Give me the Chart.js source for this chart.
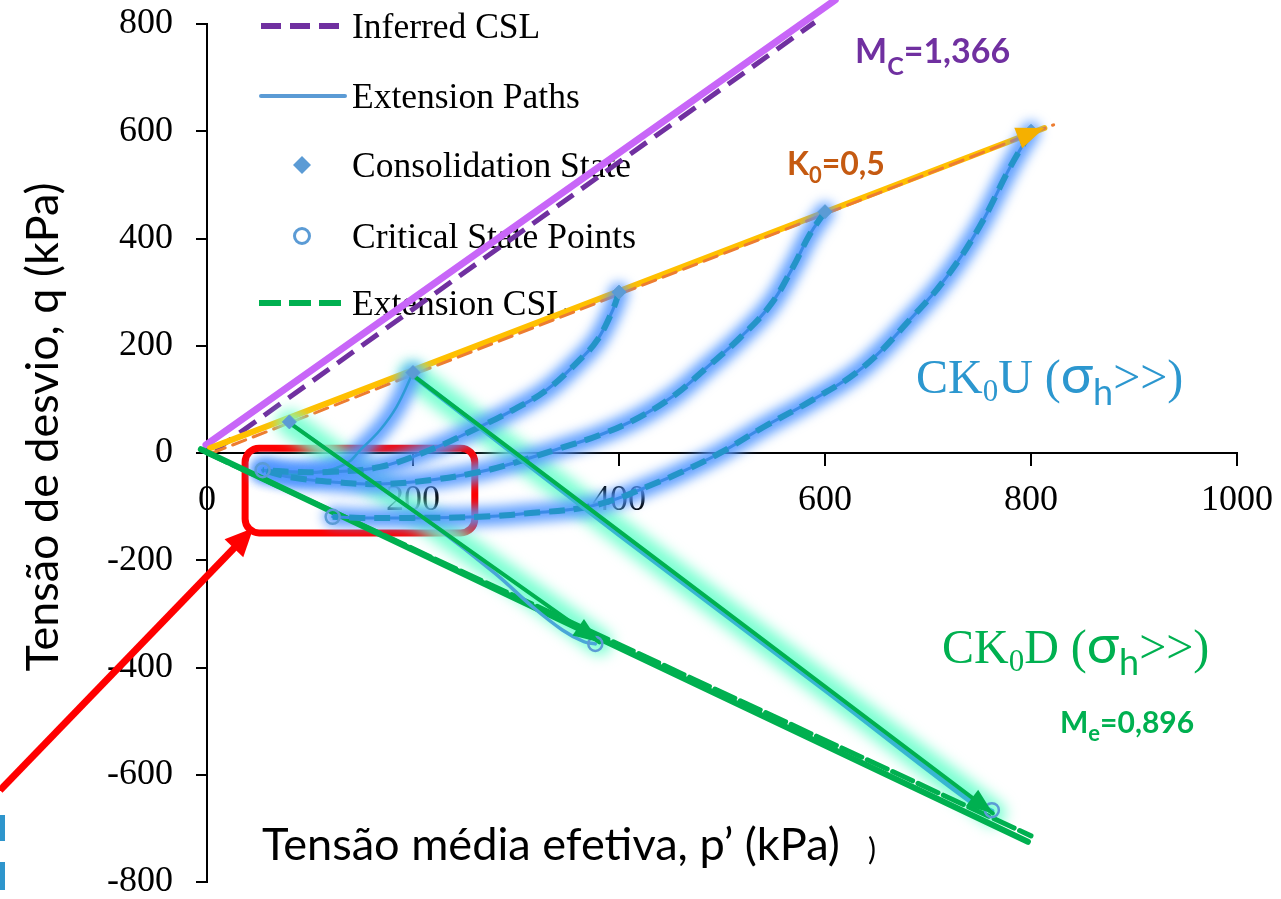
<!DOCTYPE html>
<html>
<head>
<meta charset="utf-8">
<script src="https://cdn.jsdelivr.net/npm/chart.js@4.4.1/dist/chart.umd.min.js"></script>
<style>
  html, body { margin: 0; padding: 0; background: #fff; }
  #wrap { width: 1281px; height: 899px; }
</style>
</head>
<body>
<div id="wrap"><canvas id="chart"></canvas></div>
<script>
// --- axis ---
const xMin = 0, xMax = 1000, xStep = 200;
const yMin = -800, yMax = 800, yStep = 200;

// --- legend ---
const legendLabels = ["Inferred CSL", "Extension Paths", "Consolidation State", "Critical State Points", "Extension CSL"];

// --- compression CSL (Mc = 1,366) ---
const mcP = [-1, 610];
const mcQ = [15, 845];
const mcDashP = [8, 590];
const mcDashQ = [5, 803];

// --- K0 = 0,5 line ---
const k0P = [3, 813];
const k0Q = [9, 606];
const k0DashP = [5, 822];
const k0DashQ = [0, 612];

// --- extension CSL (Me = 0,896) ---
const meP = [-6, 797];
const meQ = [7, -725];
const meDashP = [0, 800];
const meDashQ = [0, -714];

// --- CK0U paths (undrained) ---
const uP1 = [800, 780, 750, 718, 685, 637, 588, 540, 498, 459, 427, 394, 362, 314, 265, 200, 149, 122];
const uQ1 = [600, 534, 422, 328, 254, 160, 99, 48, 0, -37, -63, -88, -103, -112, -119, -121, -121, -119];
const uP2 = [600, 585, 569, 547, 517, 485, 454, 420, 382, 343, 297, 265, 219, 168, 122, 81, 54];
const uQ2 = [450, 407, 347, 276, 214, 159, 108, 67, 34, 9, -19, -35, -50, -58, -54, -45, -32];
const uP3 = [400, 394, 379, 362, 330, 297, 265, 217, 168, 122, 81, 54];
const uQ3 = [300, 267, 211, 174, 118, 80, 49, 6, -26, -35, -35, -32];
const uP4 = [200, 184, 168, 149, 136, 110, 80, 54];
const uQ4 = [150, 86, 43, 6, -19, -35, -40, -32];

// --- CK0D paths (drained) ---
const dP1 = [80, 150, 220, 280, 315, 345, 366, 377];
const dQ1 = [57, -40, -135, -225, -285, -330, -352, -356];
const dP2 = [199, 400, 600, 740, 762];
const dQ2 = [146, -152, -442, -648, -668];
const arrP1 = [80, 381];
const arrQ1 = [56, -353];
const arrP2 = [199, 763];
const arrQ2 = [146, -672];

// --- points ---
const consP = [80, 200, 400, 600, 800];
const consQ = [58, 150, 300, 450, 600];
const critP = [54, 122, 377, 762];
const critQ = [-32, -119, -356, -666];

const pts = (p, q) => p.map((v, i) => ({ x: v, y: q[i] }));

const BLUE = "#5B9BD5";
const GREEN = "#00B050";
const SERIF = "'Liberation Serif', 'Times New Roman', serif";
const SANS = "Lato, 'Open Sans', sans-serif";

function line(p, q, opt) {
  return Object.assign({
    data: pts(p, q),
    showLine: true,
    pointRadius: 0,
    pointHoverRadius: 0,
    fill: false,
    tension: 0,
    borderCapStyle: "round",
    clip: false,
  }, opt);
}

const undrained = [[uP1, uQ1], [uP2, uQ2], [uP3, uQ3], [uP4, uQ4]];
const datasets = [];

// markers (top)
datasets.push({ data: pts(consP, consQ), pointStyle: "rectRot", pointRadius: 7, backgroundColor: BLUE, borderColor: BLUE, showLine: false, order: 0 });
datasets.push({ data: pts(critP, critQ), pointStyle: "circle", pointRadius: 7, backgroundColor: "rgba(0,0,0,0)", borderColor: BLUE, borderWidth: 2.5, showLine: false, order: 0 });

// green arrows
datasets.push(line(arrP1, arrQ1, { borderColor: "#00B050", borderWidth: 4, order: 1, arrow: { color: "#00B050", len: 26, half: 10 } }));
datasets.push(line(arrP2, arrQ2, { borderColor: "#00B050", borderWidth: 4, order: 1, arrow: { color: "#00B050", len: 26, half: 10 } }));

// drained blue paths
datasets.push(line(dP1, dQ1, { borderColor: "#4AA6D8", borderWidth: 3.5, tension: 0.4, order: 2 }));
datasets.push(line(dP2, dQ2, { borderColor: "#38B6D2", borderWidth: 5, tension: 0.3, order: 2 }));

// undrained blue paths: dashed over solid
undrained.forEach(([p, q], i) => {
  if (i < 3) datasets.push(line(p, q, { borderColor: "#2494C8", borderWidth: 6, borderDash: [16, 9], borderCapStyle: "butt", tension: 0.4, order: 3 }));
  datasets.push(line(p, q, { borderColor: i < 3 ? "#3A8BE6" : "#2E9BD6", borderWidth: i < 3 ? 3 : 2.5, tension: 0.4, order: 4 }));
});

// extension CSL
datasets.push(line(meDashP, meDashQ, { borderColor: GREEN, borderWidth: 5, borderDash: [22, 6], order: 5 }));
datasets.push(line(meP, meQ, { borderColor: GREEN, borderWidth: 6, order: 5 }));

// soft glows (blurred wide strokes)
undrained.forEach(([p, q]) => {
  datasets.push(line(p, q, { borderColor: "rgba(80,150,255,0.9)", borderWidth: 19, tension: 0.4, blur: 6, order: 6 }));
});
[[arrP1, arrQ1], [arrP2, arrQ2]].forEach(([p, q]) => {
  datasets.push(line(p, q, { borderColor: "rgba(110,255,205,0.9)", borderWidth: 26, blur: 7, order: 6 }));
});

// K0 line
datasets.push(line(k0DashP, k0DashQ, { borderColor: "#ED7D31", borderWidth: 3, borderDash: [14, 8], order: 7 }));
datasets.push(line(k0P, k0Q, { borderColor: "#FFC000", borderWidth: 6, order: 7, arrow: { color: "#F5B000", len: 28, half: 11 } }));

// compression CSL
datasets.push(line(mcDashP, mcDashQ, { borderColor: "#7030A0", borderWidth: 5, borderDash: [20, 10], borderCapStyle: "butt", order: 8 }));
datasets.push(line(mcP, mcQ, { borderColor: "#C866F8", borderWidth: 7, order: 8 }));

// blur filter per dataset
const glowPlugin = {
  id: "glow",
  beforeDatasetDraw(chart, args) {
    const ds = chart.data.datasets[args.index];
    if (!ds.blur) return;
    chart.ctx.save();
    chart.ctx.filter = "blur(" + ds.blur + "px)";
  },
  afterDatasetDraw(chart, args) {
    if (chart.data.datasets[args.index].blur) chart.ctx.restore();
  },
};

// arrow heads on the last point
const arrowPlugin = {
  id: "arrows",
  afterDatasetsDraw(chart) {
    const ctx = chart.ctx;
    chart.data.datasets.forEach((ds, i) => {
      if (!ds.arrow) return;
      const el = chart.getDatasetMeta(i).data;
      const a = el[el.length - 2], b = el[el.length - 1];
      const ang = Math.atan2(b.y - a.y, b.x - a.x);
      ctx.save();
      ctx.translate(b.x, b.y);
      ctx.rotate(ang);
      ctx.fillStyle = ds.arrow.color;
      ctx.beginPath();
      ctx.moveTo(0, 0);
      ctx.lineTo(-ds.arrow.len, -ds.arrow.half);
      ctx.lineTo(-ds.arrow.len, ds.arrow.half);
      ctx.closePath();
      ctx.fill();
      ctx.restore();
    });
  },
};

function drawRich(ctx, parts, x, y, color) {
  ctx.save();
  ctx.fillStyle = color;
  ctx.textAlign = "left";
  ctx.textBaseline = "alphabetic";
  parts.forEach(([t, font, dy]) => {
    ctx.font = font;
    ctx.fillText(t, x, y + (dy || 0));
    x += ctx.measureText(t).width;
  });
  ctx.restore();
}

function fitSize(ctx, text, font, width) {
  ctx.font = "100px " + font;
  return 100 * width / ctx.measureText(text).width;
}

// legend, red box and arrow under the data
const underlayPlugin = {
  id: "underlay",
  beforeDatasetsDraw(chart) {
    const ctx = chart.ctx;
    const xs = chart.scales.x, ys = chart.scales.y;

    // red box
    const bx0 = xs.getPixelForValue(37), bx1 = xs.getPixelForValue(260);
    const by0 = ys.getPixelForValue(9), by1 = ys.getPixelForValue(-149);
    ctx.save();
    ctx.strokeStyle = "#FF0000";
    ctx.lineWidth = 7;
    ctx.beginPath();
    ctx.roundRect(bx0, by0, bx1 - bx0, by1 - by0, 14);
    ctx.stroke();

    // red arrow
    const ax0 = xs.getPixelForValue(-201), ay0 = ys.getPixelForValue(-629);
    const ax1 = xs.getPixelForValue(45), ay1 = ys.getPixelForValue(-140);
    const ang = Math.atan2(ay1 - ay0, ax1 - ax0);
    ctx.lineWidth = 7;
    ctx.beginPath();
    ctx.moveTo(ax0, ay0);
    ctx.lineTo(ax1 - 20 * Math.cos(ang), ay1 - 20 * Math.sin(ang));
    ctx.stroke();
    ctx.fillStyle = "#FF0000";
    ctx.translate(ax1, ay1);
    ctx.rotate(ang);
    ctx.beginPath();
    ctx.moveTo(0, 0);
    ctx.lineTo(-28, -13);
    ctx.lineTo(-28, 13);
    ctx.closePath();
    ctx.fill();
    ctx.restore();

    // legend
    ctx.save();
    const lx0 = 261, lx1 = 345, tx = 352;
    const rows = [26, 96, 165, 236, 303];
    ctx.lineCap = "butt";
    ctx.strokeStyle = "#7030A0"; ctx.lineWidth = 6; ctx.setLineDash([20, 9]);
    ctx.beginPath(); ctx.moveTo(lx0, rows[0]); ctx.lineTo(lx1, rows[0]); ctx.stroke();
    ctx.setLineDash([]);
    ctx.lineCap = "round";
    ctx.strokeStyle = BLUE; ctx.lineWidth = 4;
    ctx.beginPath(); ctx.moveTo(lx0, rows[1]); ctx.lineTo(lx1, rows[1]); ctx.stroke();
    ctx.fillStyle = BLUE;
    ctx.beginPath();
    ctx.moveTo(302, rows[2] - 9); ctx.lineTo(311, rows[2]); ctx.lineTo(302, rows[2] + 9); ctx.lineTo(293, rows[2]);
    ctx.closePath(); ctx.fill();
    ctx.lineWidth = 3;
    ctx.beginPath(); ctx.arc(302, rows[3], 7.5, 0, Math.PI * 2); ctx.stroke();
    ctx.lineCap = "butt";
    ctx.strokeStyle = GREEN; ctx.lineWidth = 6; ctx.setLineDash([22, 8]);
    ctx.beginPath(); ctx.moveTo(lx0 - 2, rows[4]); ctx.lineTo(lx1, rows[4]); ctx.stroke();
    ctx.setLineDash([]);
    ctx.fillStyle = "#000";
    ctx.font = "35.5px " + SERIF;
    ctx.textBaseline = "alphabetic";
    legendLabels.forEach((t, i) => ctx.fillText(t, tx, rows[i] + 12));
    ctx.restore();
  },
};

// titles and annotations on top
const overlayPlugin = {
  id: "overlay",
  afterDraw(chart) {
    const ctx = chart.ctx;
    ctx.save();
    ctx.fillStyle = "#000";

    // y title
    const yTitle = "Tensão de desvio, q (kPa)";
    const ys = fitSize(ctx, yTitle, SANS, 489);
    ctx.translate(58, 427);
    ctx.rotate(-Math.PI / 2);
    ctx.font = ys + "px " + SANS;
    ctx.textAlign = "center";
    ctx.textBaseline = "alphabetic";
    ctx.fillText(yTitle, 0, 0);
    ctx.restore();

    // x title
    ctx.save();
    const xTitle = "Tensão média efetiva, p’ (kPa)";
    const xsz = fitSize(ctx, xTitle, SANS, 578);
    ctx.font = xsz + "px " + SANS;
    ctx.fillStyle = "#000";
    ctx.textAlign = "left";
    ctx.fillText(xTitle, 262, 860);
    ctx.font = "30px " + SANS;
    ctx.fillText(")", 868, 860);
    ctx.fillStyle = "#2E95CC";
    ctx.fillRect(0, 815, 5, 26);
    ctx.fillRect(0, 862, 5, 28);
    ctx.restore();

    // annotations
    drawRich(ctx, [["M", "bold 34px " + SANS], ["C", "bold 25px " + SANS, 12], ["=1,366", "bold 34px " + SANS]], 855, 63, "#7030A0");
    drawRich(ctx, [["K", "bold 32px " + SANS], ["0", "bold 22px " + SANS, 8], ["=0,5", "bold 32px " + SANS]], 787, 175, "#C55A11");
    drawRich(ctx, [["CK", "48px " + SERIF], ["0", "31px " + SERIF, 8], ["U (", "48px " + SERIF], ["σ", "54px " + SANS], ["h", "36px " + SANS, 12], [">>)", "48px " + SERIF]], 916, 393, "#2C97CF");
    drawRich(ctx, [["CK", "48px " + SERIF], ["0", "31px " + SERIF, 8], ["D (", "48px " + SERIF], ["σ", "54px " + SANS], ["h", "36px " + SANS, 12], [">>)", "48px " + SERIF]], 942, 663, "#00B050");
    drawRich(ctx, [["M", "bold 30px " + SANS], ["e", "bold 22px " + SANS, 8], ["=0,896", "bold 30px " + SANS]], 1060, 733, "#00B050");
  },
};

const chart = new Chart(document.getElementById("chart"), {
  type: "scatter",
  data: { datasets: datasets },
  options: {
    responsive: true,
    maintainAspectRatio: false,
    animation: false,
    layout: { padding: { left: 0, top: 24, right: 44, bottom: 17 } },
    plugins: { legend: { display: false }, tooltip: { enabled: false } },
    scales: {
      x: {
        type: "linear",
        min: xMin, max: xMax,
        position: { y: 0 },
        afterFit: (s) => { s.paddingLeft = 0; s.paddingRight = 0; s.paddingTop = 0; s.paddingBottom = 0; },
        ticks: { stepSize: xStep, color: "#000", font: { family: SERIF, size: 36 }, padding: 14, maxRotation: 0, callback: (v) => String(v) },
        grid: { drawOnChartArea: false, drawTicks: true, tickLength: 12, color: "#000", lineWidth: 2 },
        border: { display: true, color: "#000", width: 2 },
      },
      y: {
        type: "linear",
        min: yMin, max: yMax,
        position: "left",
        afterFit: (s) => { s.width = 207; s.paddingTop = 0; s.paddingBottom = 0; },
        ticks: { stepSize: yStep, color: "#000", font: { family: SERIF, size: 36 }, padding: 23, callback: (v) => String(v) },
        grid: { drawOnChartArea: false, drawTicks: true, tickLength: 11, color: "#000", lineWidth: 2 },
        border: { display: true, color: "#000", width: 2 },
      },
    },
  },
  plugins: [glowPlugin, arrowPlugin, underlayPlugin, overlayPlugin],
});
</script>
</body>
</html>
